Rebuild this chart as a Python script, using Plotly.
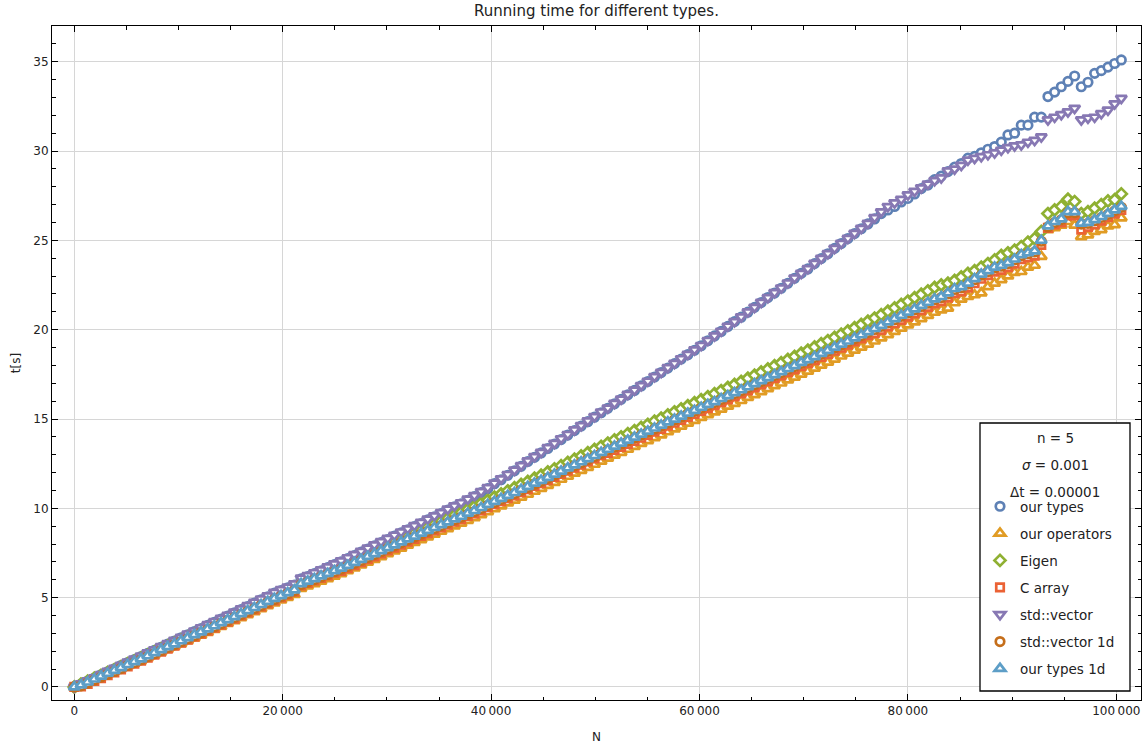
import plotly.graph_objects as go

# sample sizes N (158 samples, evenly spaced)
N = list(range(0, 100481, 640))

our_types = [
    0.00, 0.16, 0.33, 0.50, 0.68, 0.85, 1.02, 1.20, 1.37, 1.53,
    1.70, 1.88, 2.05, 2.22, 2.40, 2.57, 2.75, 2.92, 3.10, 3.27,
    3.45, 3.62, 3.80, 3.97, 4.15, 4.33, 4.50, 4.70, 4.88, 5.05,
    5.25, 5.40, 5.55, 5.70, 6.05, 6.18, 6.35, 6.50, 6.68, 6.85,
    7.00, 7.18, 7.35, 7.55, 7.72, 7.90, 8.08, 8.25, 8.45, 8.62,
    8.80, 8.98, 9.15, 9.35, 9.52, 9.70, 9.90, 10.08, 10.25, 10.45,
    10.65, 10.88, 11.10, 11.38, 11.60, 11.85, 12.10, 12.35, 12.62, 12.85,
    13.10, 13.35, 13.60, 13.85, 14.10, 14.35, 14.60, 14.85, 15.10, 15.35,
    15.60, 15.85, 16.10, 16.35, 16.60, 16.85, 17.10, 17.35, 17.60, 17.85,
    18.10, 18.35, 18.60, 18.85, 19.10, 19.38, 19.65, 19.90, 20.18, 20.45,
    20.70, 20.98, 21.25, 21.52, 21.80, 22.05, 22.32, 22.60, 22.88, 23.15,
    23.40, 23.70, 23.98, 24.25, 24.55, 24.82, 25.10, 25.38, 25.65, 25.92,
    26.20, 26.50, 26.70, 26.90, 27.15, 27.35, 27.60, 27.90, 28.10, 28.40,
    28.60, 28.85, 29.10, 29.30, 29.60, 29.70, 29.90, 30.10, 30.25, 30.50,
    30.90, 31.00, 31.45, 31.45, 31.90, 31.90, 33.05, 33.30, 33.60, 33.90,
    34.20, 33.60, 33.85, 34.35, 34.50, 34.70, 34.90, 35.10,
]

our_operators = [
    0.00, 0.15, 0.29, 0.45, 0.59, 0.74, 0.88, 1.03, 1.18, 1.33,
    1.47, 1.63, 1.79, 1.95, 2.11, 2.26, 2.42, 2.58, 2.74, 2.89,
    3.05, 3.22, 3.38, 3.55, 3.71, 3.88, 4.04, 4.21, 4.37, 4.54,
    4.70, 4.86, 5.01, 5.17, 5.51, 5.65, 5.78, 5.92, 6.06, 6.20,
    6.34, 6.50, 6.66, 6.82, 6.98, 7.14, 7.29, 7.45, 7.61, 7.77,
    7.93, 8.09, 8.24, 8.40, 8.55, 8.71, 8.85, 9.01, 9.16, 9.32,
    9.47, 9.64, 9.80, 9.97, 10.13, 10.30, 10.45, 10.62, 10.78, 10.95,
    11.11, 11.28, 11.45, 11.62, 11.79, 11.96, 12.12, 12.29, 12.46, 12.63,
    12.80, 12.97, 13.13, 13.30, 13.46, 13.63, 13.78, 13.95, 14.11, 14.28,
    14.44, 14.60, 14.76, 14.92, 15.08, 15.24, 15.39, 15.55, 15.71, 15.87,
    16.03, 16.20, 16.36, 16.53, 16.69, 16.86, 17.01, 17.18, 17.34, 17.51,
    17.67, 17.84, 18.01, 18.18, 18.35, 18.52, 18.68, 18.85, 19.02, 19.19,
    19.36, 19.54, 19.72, 19.90, 20.08, 20.26, 20.43, 20.61, 20.79, 20.97,
    21.10, 21.20, 21.50, 21.70, 21.85, 21.95, 22.05, 22.40, 22.60, 22.80,
    23.00, 23.20, 23.25, 23.50, 23.60, 24.10, 25.60, 25.70, 25.85, 26.05,
    25.85, 25.20, 25.30, 25.50, 25.60, 25.80, 25.87, 26.25,
]

eigen = [
    0.00, 0.16, 0.32, 0.49, 0.65, 0.81, 0.97, 1.13, 1.30, 1.46,
    1.62, 1.79, 1.96, 2.13, 2.30, 2.46, 2.63, 2.80, 2.97, 3.13,
    3.30, 3.47, 3.64, 3.81, 3.98, 4.15, 4.32, 4.49, 4.66, 4.83,
    5.00, 5.17, 5.33, 5.50, 5.85, 6.00, 6.15, 6.30, 6.45, 6.60,
    6.75, 6.92, 7.09, 7.26, 7.43, 7.60, 7.77, 7.94, 8.11, 8.28,
    8.45, 8.62, 8.78, 8.95, 9.11, 9.28, 9.44, 9.61, 9.77, 9.94,
    10.10, 10.28, 10.45, 10.63, 10.80, 10.98, 11.15, 11.33, 11.50, 11.68,
    11.85, 12.03, 12.21, 12.39, 12.57, 12.75, 12.93, 13.11, 13.29, 13.47,
    13.65, 13.83, 14.00, 14.18, 14.35, 14.53, 14.70, 14.88, 15.05, 15.23,
    15.40, 15.57, 15.74, 15.91, 16.08, 16.25, 16.42, 16.59, 16.76, 16.93,
    17.10, 17.28, 17.45, 17.63, 17.80, 17.98, 18.15, 18.33, 18.50, 18.68,
    18.85, 19.03, 19.21, 19.39, 19.57, 19.75, 19.93, 20.11, 20.29, 20.47,
    20.65, 20.84, 21.03, 21.22, 21.41, 21.60, 21.79, 21.98, 22.17, 22.36,
    22.50, 22.60, 22.75, 22.95, 23.15, 23.30, 23.50, 23.70, 23.90, 24.15,
    24.30, 24.45, 24.65, 24.90, 25.10, 25.50, 26.50, 26.70, 26.90, 27.30,
    27.17, 26.50, 26.60, 26.80, 27.00, 27.20, 27.27, 27.60,
]

c_array = [
    0.00, 0.03, 0.17, 0.34, 0.50, 0.66, 0.82, 0.98, 1.15, 1.31,
    1.47, 1.64, 1.81, 1.98, 2.15, 2.31, 2.48, 2.65, 2.82, 2.98,
    3.15, 3.32, 3.49, 3.66, 3.83, 4.00, 4.17, 4.34, 4.51, 4.68,
    4.85, 5.01, 5.17, 5.33, 5.68, 5.82, 5.96, 6.11, 6.25, 6.40,
    6.49, 6.65, 6.82, 6.98, 7.15, 7.31, 7.47, 7.64, 7.80, 7.97,
    8.13, 8.29, 8.45, 8.61, 8.77, 8.93, 9.08, 9.25, 9.40, 9.57,
    9.72, 9.89, 10.06, 10.23, 10.40, 10.57, 10.73, 10.91, 11.07, 11.25,
    11.41, 11.58, 11.76, 11.93, 12.11, 12.28, 12.45, 12.63, 12.80, 12.98,
    13.10, 13.27, 13.44, 13.61, 13.78, 13.95, 14.11, 14.29, 14.45, 14.63,
    14.79, 14.95, 15.12, 15.28, 15.45, 15.61, 15.77, 15.94, 16.10, 16.27,
    16.43, 16.60, 16.77, 16.94, 17.11, 17.28, 17.44, 17.62, 17.78, 17.96,
    18.12, 18.29, 18.47, 18.64, 18.82, 18.99, 19.16, 19.34, 19.51, 19.69,
    19.81, 19.99, 20.18, 20.36, 20.55, 20.73, 20.91, 21.10, 21.28, 21.47,
    21.60, 21.80, 22.05, 22.15, 22.35, 22.60, 22.85, 23.05, 23.25, 23.35,
    23.50, 23.70, 23.95, 24.05, 24.15, 24.75, 25.70, 25.90, 26.00, 26.40,
    26.40, 25.60, 25.75, 25.90, 26.10, 26.30, 26.50, 26.70,
]

std_vector = [
    0.00, 0.18, 0.35, 0.52, 0.70, 0.88, 1.05, 1.22, 1.40, 1.57,
    1.74, 1.92, 2.09, 2.26, 2.44, 2.62, 2.79, 2.97, 3.14, 3.32,
    3.50, 3.67, 3.85, 4.02, 4.20, 4.38, 4.56, 4.75, 4.93, 5.10,
    5.30, 5.45, 5.60, 5.78, 6.10, 6.24, 6.40, 6.56, 6.73, 6.90,
    7.06, 7.24, 7.42, 7.60, 7.78, 7.96, 8.14, 8.32, 8.50, 8.68,
    8.86, 9.04, 9.22, 9.40, 9.58, 9.77, 9.96, 10.14, 10.32, 10.52,
    10.72, 10.94, 11.16, 11.42, 11.66, 11.90, 12.14, 12.40, 12.66, 12.90,
    13.14, 13.40, 13.64, 13.90, 14.14, 14.40, 14.64, 14.90, 15.14, 15.40,
    15.62, 15.88, 16.12, 16.38, 16.62, 16.88, 17.12, 17.38, 17.62, 17.88,
    18.12, 18.38, 18.62, 18.88, 19.12, 19.40, 19.66, 19.92, 20.20, 20.46,
    20.72, 21.00, 21.26, 21.54, 21.80, 22.08, 22.34, 22.62, 22.90, 23.16,
    23.42, 23.72, 24.00, 24.26, 24.56, 24.84, 25.12, 25.40, 25.68, 25.96,
    26.28, 26.60, 26.90, 27.10, 27.30, 27.55, 27.75, 27.95, 28.15, 28.35,
    28.50, 28.90, 29.00, 29.20, 29.50, 29.60, 29.70, 29.80, 29.90, 30.05,
    30.20, 30.30, 30.35, 30.50, 30.60, 30.80, 31.75, 31.90, 32.05, 32.20,
    32.40, 31.75, 31.85, 31.90, 32.10, 32.30, 32.65, 32.95,
]

std_vector_1d = [
    0.00, 0.06, 0.22, 0.39, 0.55, 0.71, 0.87, 1.03, 1.20, 1.36,
    1.52, 1.69, 1.86, 2.03, 2.20, 2.36, 2.53, 2.70, 2.87, 3.03,
    3.20, 3.37, 3.54, 3.71, 3.88, 4.05, 4.22, 4.39, 4.56, 4.73,
    4.90, 5.06, 5.22, 5.38, 5.73, 5.87, 6.01, 6.16, 6.30, 6.45,
    6.59, 6.75, 6.92, 7.08, 7.25, 7.41, 7.57, 7.74, 7.90, 8.07,
    8.23, 8.39, 8.55, 8.71, 8.87, 9.03, 9.18, 9.35, 9.50, 9.67,
    9.82, 9.99, 10.16, 10.33, 10.50, 10.67, 10.83, 11.01, 11.17, 11.35,
    11.51, 11.68, 11.86, 12.03, 12.21, 12.38, 12.55, 12.73, 12.90, 13.08,
    13.25, 13.42, 13.59, 13.76, 13.93, 14.10, 14.26, 14.44, 14.60, 14.78,
    14.94, 15.10, 15.27, 15.43, 15.60, 15.76, 15.92, 16.09, 16.25, 16.42,
    16.58, 16.75, 16.92, 17.09, 17.26, 17.43, 17.59, 17.77, 17.93, 18.11,
    18.27, 18.44, 18.62, 18.79, 18.97, 19.14, 19.31, 19.49, 19.66, 19.84,
    20.01, 20.19, 20.38, 20.56, 20.75, 20.93, 21.11, 21.30, 21.48, 21.67,
    21.80, 22.00, 22.25, 22.35, 22.55, 22.80, 23.05, 23.25, 23.45, 23.55,
    23.70, 23.90, 24.15, 24.25, 24.35, 24.95, 25.75, 26.00, 26.15, 26.55,
    26.55, 25.91, 25.95, 26.10, 26.28, 26.45, 26.65, 26.85,
]

our_types_1d = [
    0.00, 0.11, 0.27, 0.44, 0.60, 0.76, 0.92, 1.08, 1.25, 1.41,
    1.57, 1.74, 1.91, 2.08, 2.25, 2.41, 2.58, 2.75, 2.92, 3.08,
    3.25, 3.42, 3.59, 3.76, 3.93, 4.10, 4.27, 4.44, 4.61, 4.78,
    4.95, 5.11, 5.27, 5.43, 5.78, 5.92, 6.06, 6.21, 6.35, 6.50,
    6.64, 6.80, 6.97, 7.13, 7.30, 7.46, 7.62, 7.79, 7.95, 8.12,
    8.28, 8.44, 8.60, 8.76, 8.92, 9.08, 9.23, 9.40, 9.55, 9.72,
    9.87, 10.04, 10.21, 10.38, 10.55, 10.72, 10.88, 11.06, 11.22, 11.40,
    11.56, 11.73, 11.91, 12.08, 12.26, 12.43, 12.60, 12.78, 12.95, 13.13,
    13.30, 13.47, 13.64, 13.81, 13.98, 14.15, 14.31, 14.49, 14.65, 14.83,
    14.99, 15.15, 15.32, 15.48, 15.65, 15.81, 15.97, 16.14, 16.30, 16.47,
    16.63, 16.80, 16.97, 17.14, 17.31, 17.48, 17.64, 17.82, 17.98, 18.16,
    18.32, 18.49, 18.67, 18.84, 19.02, 19.19, 19.36, 19.54, 19.71, 19.89,
    20.06, 20.24, 20.43, 20.61, 20.80, 20.98, 21.16, 21.35, 21.53, 21.72,
    21.85, 22.05, 22.30, 22.40, 22.60, 22.85, 23.10, 23.30, 23.50, 23.60,
    23.75, 23.95, 24.20, 24.30, 24.40, 25.00, 25.80, 26.05, 26.20, 26.60,
    26.60, 25.96, 26.00, 26.15, 26.33, 26.50, 26.70, 26.90,
]

x_tick_vals = [0, 20000, 40000, 60000, 80000, 100000]
x_tick_text = ["0", "20\u2009000", "40\u2009000", "60\u2009000", "80\u2009000", "100\u2009000"]

legend_header = ["n = 5", "<i>\u03c3</i> = 0.001", "\u0394t = 0.00001"]

series = [
    ("our types", our_types, "circle", "#5E81B5", 8.5),
    ("our operators", our_operators, "triangle-up", "#E19C24", 9.5),
    ("Eigen", eigen, "diamond", "#8FB032", 8.5),
    ("C array", c_array, "square", "#EB6235", 7.5),
    ("std::vector", std_vector, "triangle-down", "#8778B3", 9.5),
    ("std::vector 1d", std_vector_1d, "circle", "#C56E1A", 8.5),
    ("our types 1d", our_types_1d, "triangle-up", "#5D9EC7", 9.5),
]

FONT = "DejaVu Sans"
TXT = "#222222"
LEG_SIZE = 13.5

fig = go.Figure()
for i, (name, vals, sym, col, sz) in enumerate(series):
    assert len(vals) == len(N), (name, len(vals))
    fig.add_trace(go.Scatter(
        x=N, y=vals, mode="markers", name=name, legendgroup=f"g{i}",
        marker=dict(symbol=sym, size=sz, color="white",
                    line=dict(color=col, width=2.7)),
        hoverinfo="skip",
    ))

axis_common = dict(
    showline=True, linecolor="#000000", linewidth=1, mirror="ticks",
    ticks="inside", ticklen=6, tickwidth=1, tickcolor="#000000",
    showgrid=True, gridcolor="#d6d6d6", gridwidth=1, zeroline=False,
    tickfont=dict(family=FONT, size=12, color=TXT),
)

fig.update_layout(
    width=1146, height=747,
    margin=dict(l=52, r=5, t=26, b=47),
    paper_bgcolor="white", plot_bgcolor="white",
    font=dict(family=FONT, size=12, color=TXT),
    title=dict(text="Running time for different types.", x=0.5, xref="paper",
               y=1 - 11 / 747, yref="container", yanchor="middle",
               xanchor="center", font=dict(family=FONT, size=15, color=TXT)),
    xaxis=dict(range=[-2140, 102370], tickvals=x_tick_vals, ticktext=x_tick_text,
               minor=dict(dtick=5000, ticks="inside", ticklen=3.5, tickcolor="#000000", showgrid=False),
               title=dict(text="N", font=dict(family=FONT, size=12, color=TXT), standoff=15),
               **axis_common),
    yaxis=dict(range=[-0.73, 37.0], dtick=5, tick0=0,
               minor=dict(dtick=1, ticks="inside", ticklen=3.5, tickcolor="#000000", showgrid=False),
               title=dict(text="t[s]", font=dict(family=FONT, size=12, color=TXT), standoff=10),
               **axis_common),
    legend=dict(x=(980 - 52) / 1089, xanchor="left", y=(700 - 491) / 674, yanchor="top",
                bgcolor="rgba(0,0,0,0)", borderwidth=0, tracegroupgap=6.5,
                font=dict(family=FONT, size=LEG_SIZE, color=TXT)),
    showlegend=True,
)

# legend frame and header lines
fig.add_shape(type="rect", xref="paper", yref="paper",
              x0=(980 - 52) / 1089, x1=(1130 - 52) / 1089,
              y0=(700 - 691) / 674, y1=(700 - 423) / 674,
              line=dict(color="#000000", width=1.3), fillcolor="white", layer="above")
for k, line in enumerate(legend_header):
    fig.add_annotation(text=line, xref="paper", yref="paper",
                       x=(1055 - 52) / 1089, y=(700 - (438 + 27 * k)) / 674,
                       showarrow=False, xanchor="center", yanchor="middle",
                       font=dict(family=FONT, size=LEG_SIZE, color=TXT))

fig.write_html("out.html", config={"displayModeBar": False})
